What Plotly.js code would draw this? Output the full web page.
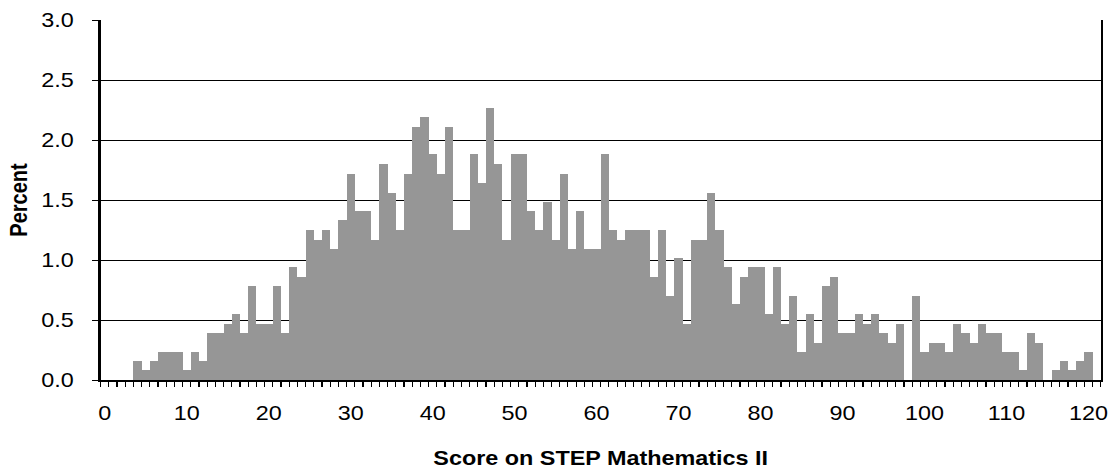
<!DOCTYPE html>
<html>
<head>
<meta charset="utf-8">
<script src="https://cdn.plot.ly/plotly-3.0.1.min.js"></script>
<style>
  html, body { margin: 0; padding: 0; background: #ffffff; }
  #wrap { width: 1116px; height: 472px; overflow: hidden; }
  #chart { width: 954px; height: 472px; transform: scaleX(1.16981); transform-origin: 0 0; }
</style>
</head>
<body>
<div id="wrap"><div id="chart"></div></div>
<script>
// Score categories (0 .. 121)
const scores = [
  0,1,2,3,4,5,6,7,8,9,
  10,11,12,13,14,15,16,17,18,19,
  20,21,22,23,24,25,26,27,28,29,
  30,31,32,33,34,35,36,37,38,39,
  40,41,42,43,44,45,46,47,48,49,
  50,51,52,53,54,55,56,57,58,59,
  60,61,62,63,64,65,66,67,68,69,
  70,71,72,73,74,75,76,77,78,79,
  80,81,82,83,84,85,86,87,88,89,
  90,91,92,93,94,95,96,97,98,99,
  100,101,102,103,104,105,106,107,108,109,
  110,111,112,113,114,115,116,117,118,119,
  120,121
];

// Percent of candidates at each score
const percent = [
  0,0,0,0,0.16,0.08,0.16,0.23,0.23,0.23,
  0.08,0.23,0.16,0.39,0.39,0.47,0.55,0.39,0.78,0.47,
  0.47,0.78,0.39,0.94,0.86,1.25,1.17,1.25,1.09,1.33,
  1.72,1.41,1.41,1.17,1.80,1.56,1.25,1.72,2.11,2.19,
  1.88,1.72,2.11,1.25,1.25,1.88,1.64,2.27,1.80,1.17,
  1.88,1.88,1.41,1.25,1.48,1.17,1.72,1.09,1.41,1.09,
  1.09,1.88,1.25,1.17,1.25,1.25,1.25,0.86,1.25,0.70,
  1.02,0.47,1.17,1.17,1.56,1.25,0.94,0.63,0.86,0.94,
  0.94,0.55,0.94,0.47,0.70,0.23,0.55,0.31,0.78,0.86,
  0.39,0.39,0.55,0.47,0.55,0.39,0.31,0.47,0,0.70,
  0.23,0.31,0.31,0.23,0.47,0.39,0.31,0.47,0.39,0.39,
  0.23,0.23,0.08,0.39,0.31,0,0.08,0.16,0.08,0.16,
  0.23,0
];

// Tick labels on the score axis
const xTickVals = [0,10,20,30,40,50,60,70,80,90,100,110,120];
const xTickText = ["0","10","20","30","40","50","60","70","80","90","100","110","120"];

const xTitle = "Score on STEP Mathematics II";
const yTitle = "Percent";

const FONT = '"Liberation Sans", Arial, Helvetica, sans-serif';

const trace = {
  type: 'bar',
  x: scores,
  y: percent,
  width: 1,
  marker: { color: '#969696', line: { width: 0 } },
  hoverinfo: 'skip'
};

const layout = {
  width: 954,
  height: 472,
  margin: { l: 86, r: 13, t: 20, b: 92, pad: 0 },
  paper_bgcolor: '#ffffff',
  plot_bgcolor: '#ffffff',
  font: { family: FONT, size: 20, color: '#000000' },
  showlegend: false,
  bargap: 0,
  xaxis: {
    type: 'linear',
    range: [-0.5, 121.5],
    tickmode: 'array',
    tickvals: xTickVals,
    ticktext: xTickText,
    ticks: '',
    ticklabelstandoff: 14,
    tickfont: { family: FONT, size: 20, color: '#000000' },
    showgrid: false,
    zeroline: false,
    showline: true,
    linecolor: '#000000',
    linewidth: 2,
    layer: 'below traces',
    minor: {
      tickmode: 'linear',
      tick0: -0.5,
      dtick: 1,
      ticks: 'outside',
      ticklen: 5,
      tickwidth: 1,
      tickcolor: '#000000',
      showgrid: false
    },
    title: {
      text: xTitle,
      font: { family: FONT, size: 20, weight: 'bold', color: '#000000' },
      standoff: 28
    }
  },
  yaxis: {
    range: [0, 3],
    tickmode: 'linear',
    tick0: 0,
    dtick: 0.5,
    tickformat: '.1f',
    ticks: 'outside',
    ticklen: 5,
    tickwidth: 1,
    tickcolor: '#000000',
    ticklabelstandoff: 12,
    tickfont: { family: FONT, size: 20, color: '#000000' },
    showgrid: true,
    gridcolor: '#000000',
    gridwidth: 1,
    zeroline: false,
    showline: true,
    mirror: true,
    linecolor: '#000000',
    linewidth: 2,
    title: {
      text: yTitle,
      font: { family: FONT, size: 20, weight: 'bold', color: '#000000' },
      standoff: 6
    }
  }
};

Plotly.newPlot('chart', [trace], layout, { staticPlot: true, displayModeBar: false });
</script>
</body>
</html>
